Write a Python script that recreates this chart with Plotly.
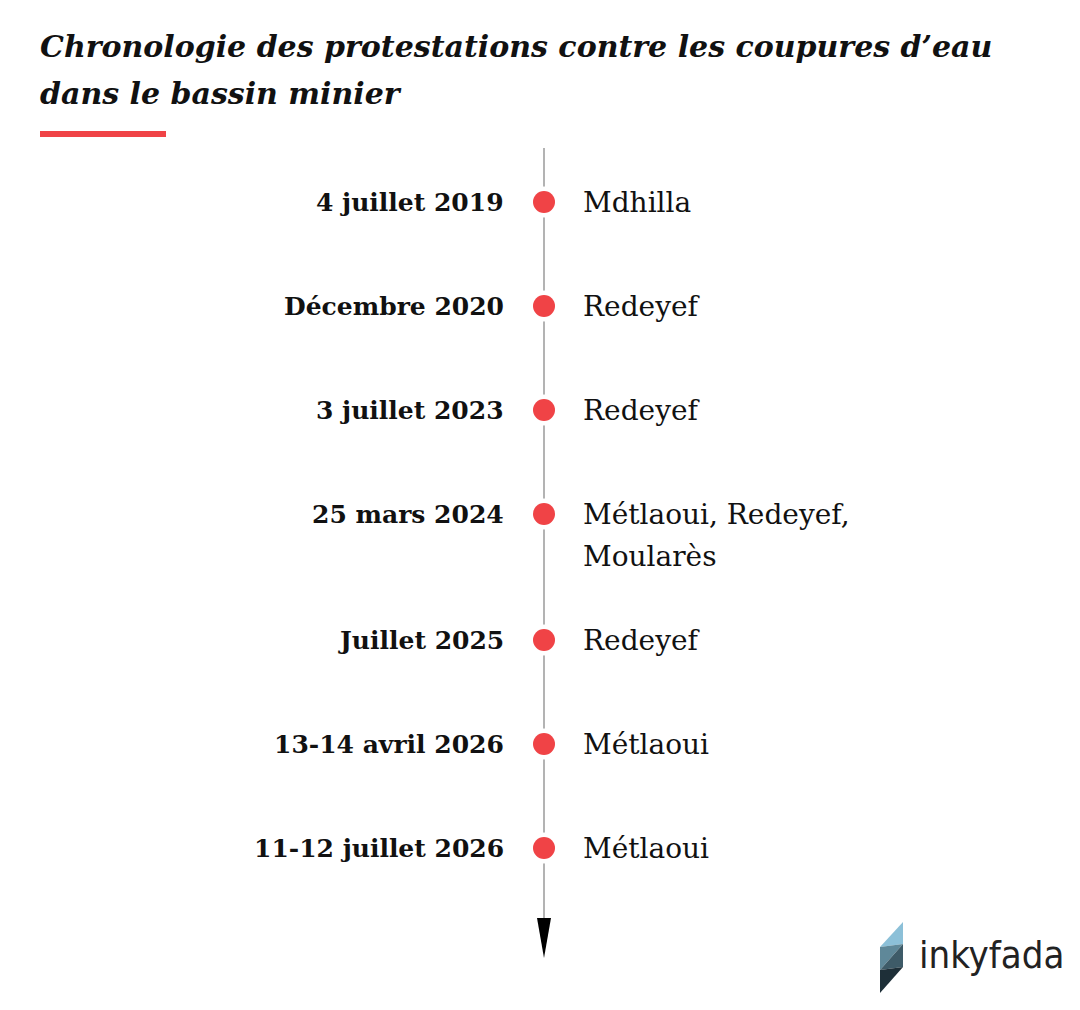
import plotly.graph_objects as go

# timeline data
dates = ["4 juillet 2019", "Décembre 2020", "3 juillet 2023", "25 mars 2024",
         "Juillet 2025", "13-14 avril 2026", "11-12 juillet 2026"]
places = ["Mdhilla", "Redeyef", "Redeyef", "Métlaoui, Redeyef,<br>Moularès",
          "Redeyef", "Métlaoui", "Métlaoui"]

title_lines = ["Chronologie des protestations contre les coupures d\u2019eau",
               "dans le bassin minier"]

W, H = 1080, 1010
PAD = 8  # page body margin, coordinates below are page pixels
RED = "#f04346"
SERIF = "DejaVu Serif, Liberation Serif, serif"

# vertical layout: one slot per event, extra room for wrapped labels
first_y = 202
slot = 104
extra_line = 22
line_x = 544
date_x = 506
place_x = 581
place_line_h = 42

ys = []
y = first_y
for p in places:
    ys.append(y)
    y += slot + extra_line * p.count("<br>")

fig = go.Figure()

# halo so the axis line is cut around each dot
fig.add_trace(go.Scatter(x=[line_x] * len(ys), y=ys, mode="markers",
                         marker=dict(size=31, color="white"),
                         hoverinfo="skip", showlegend=False))
fig.add_trace(go.Scatter(x=[line_x] * len(ys), y=ys, mode="markers",
                         marker=dict(size=22, color=RED),
                         text=[d + " : " + p.replace("<br>", " ") for d, p in zip(dates, places)],
                         hoverinfo="text", showlegend=False))

shapes = []
# timeline axis + arrow head
shapes.append(dict(type="line", x0=line_x, x1=line_x, y0=148, y1=925,
                   line=dict(color="#9a9a9a", width=1.5), layer="below"))
shapes.append(dict(type="path", path="M 537 918 L 551 918 L 544 958 Z",
                   fillcolor="black", line=dict(width=0)))
# red underline under title
shapes.append(dict(type="rect", x0=40, x1=166, y0=131, y1=137,
                   fillcolor=RED, line=dict(width=0)))

# inkyfada logo mark
A, B, C, D = (903, 922), (903, 967), (880, 993), (880, 947)
M1, M2 = (903, 944), (880, 970)
tris = [((A, D, M1), "#8cc0d8"), ((D, M1, M2), "#5f8899"),
        ((M1, M2, B), "#3e5b68"), ((M2, B, C), "#1e2f38")]
for pts, col in tris:
    path = "M " + " L ".join(f"{px} {py}" for px, py in pts) + " Z"
    shapes.append(dict(type="path", path=path, fillcolor=col, line=dict(width=0)))

annotations = []
for i, t in enumerate(title_lines):
    annotations.append(dict(x=38, y=46 + 47 * i, text=f"<b><i>{t}</i></b>",
                            xanchor="left", yanchor="middle", showarrow=False,
                            font=dict(family=SERIF, size=30, color="#111111")))

for d, p, yy in zip(dates, places, ys):
    annotations.append(dict(x=date_x, y=yy, text=f"<b>{d}</b>", xanchor="right",
                            yanchor="middle", showarrow=False,
                            font=dict(family=SERIF, size=25, color="#111111")))
    for k, part in enumerate(p.split("<br>")):
        annotations.append(dict(x=place_x, y=yy + k * place_line_h, text=part,
                                xanchor="left", yanchor="middle", showarrow=False,
                                font=dict(family=SERIF, size=28, color="#111111")))

annotations.append(dict(x=917, y=955, text="inkyfada", xanchor="left", yanchor="middle",
                        showarrow=False,
                        font=dict(family="Liberation Sans Narrow, Noto Sans Condensed, DejaVu Sans Condensed, sans-serif",
                                  size=38, color="#222222")))

fig.update_layout(
    width=W - PAD, height=H - PAD,
    margin=dict(l=0, r=0, t=0, b=0),
    paper_bgcolor="white", plot_bgcolor="white",
    xaxis=dict(range=[PAD, W], visible=False, fixedrange=True),
    yaxis=dict(range=[H, PAD], visible=False, fixedrange=True),
    shapes=shapes, annotations=annotations,
)

fig.write_html("out.html")
